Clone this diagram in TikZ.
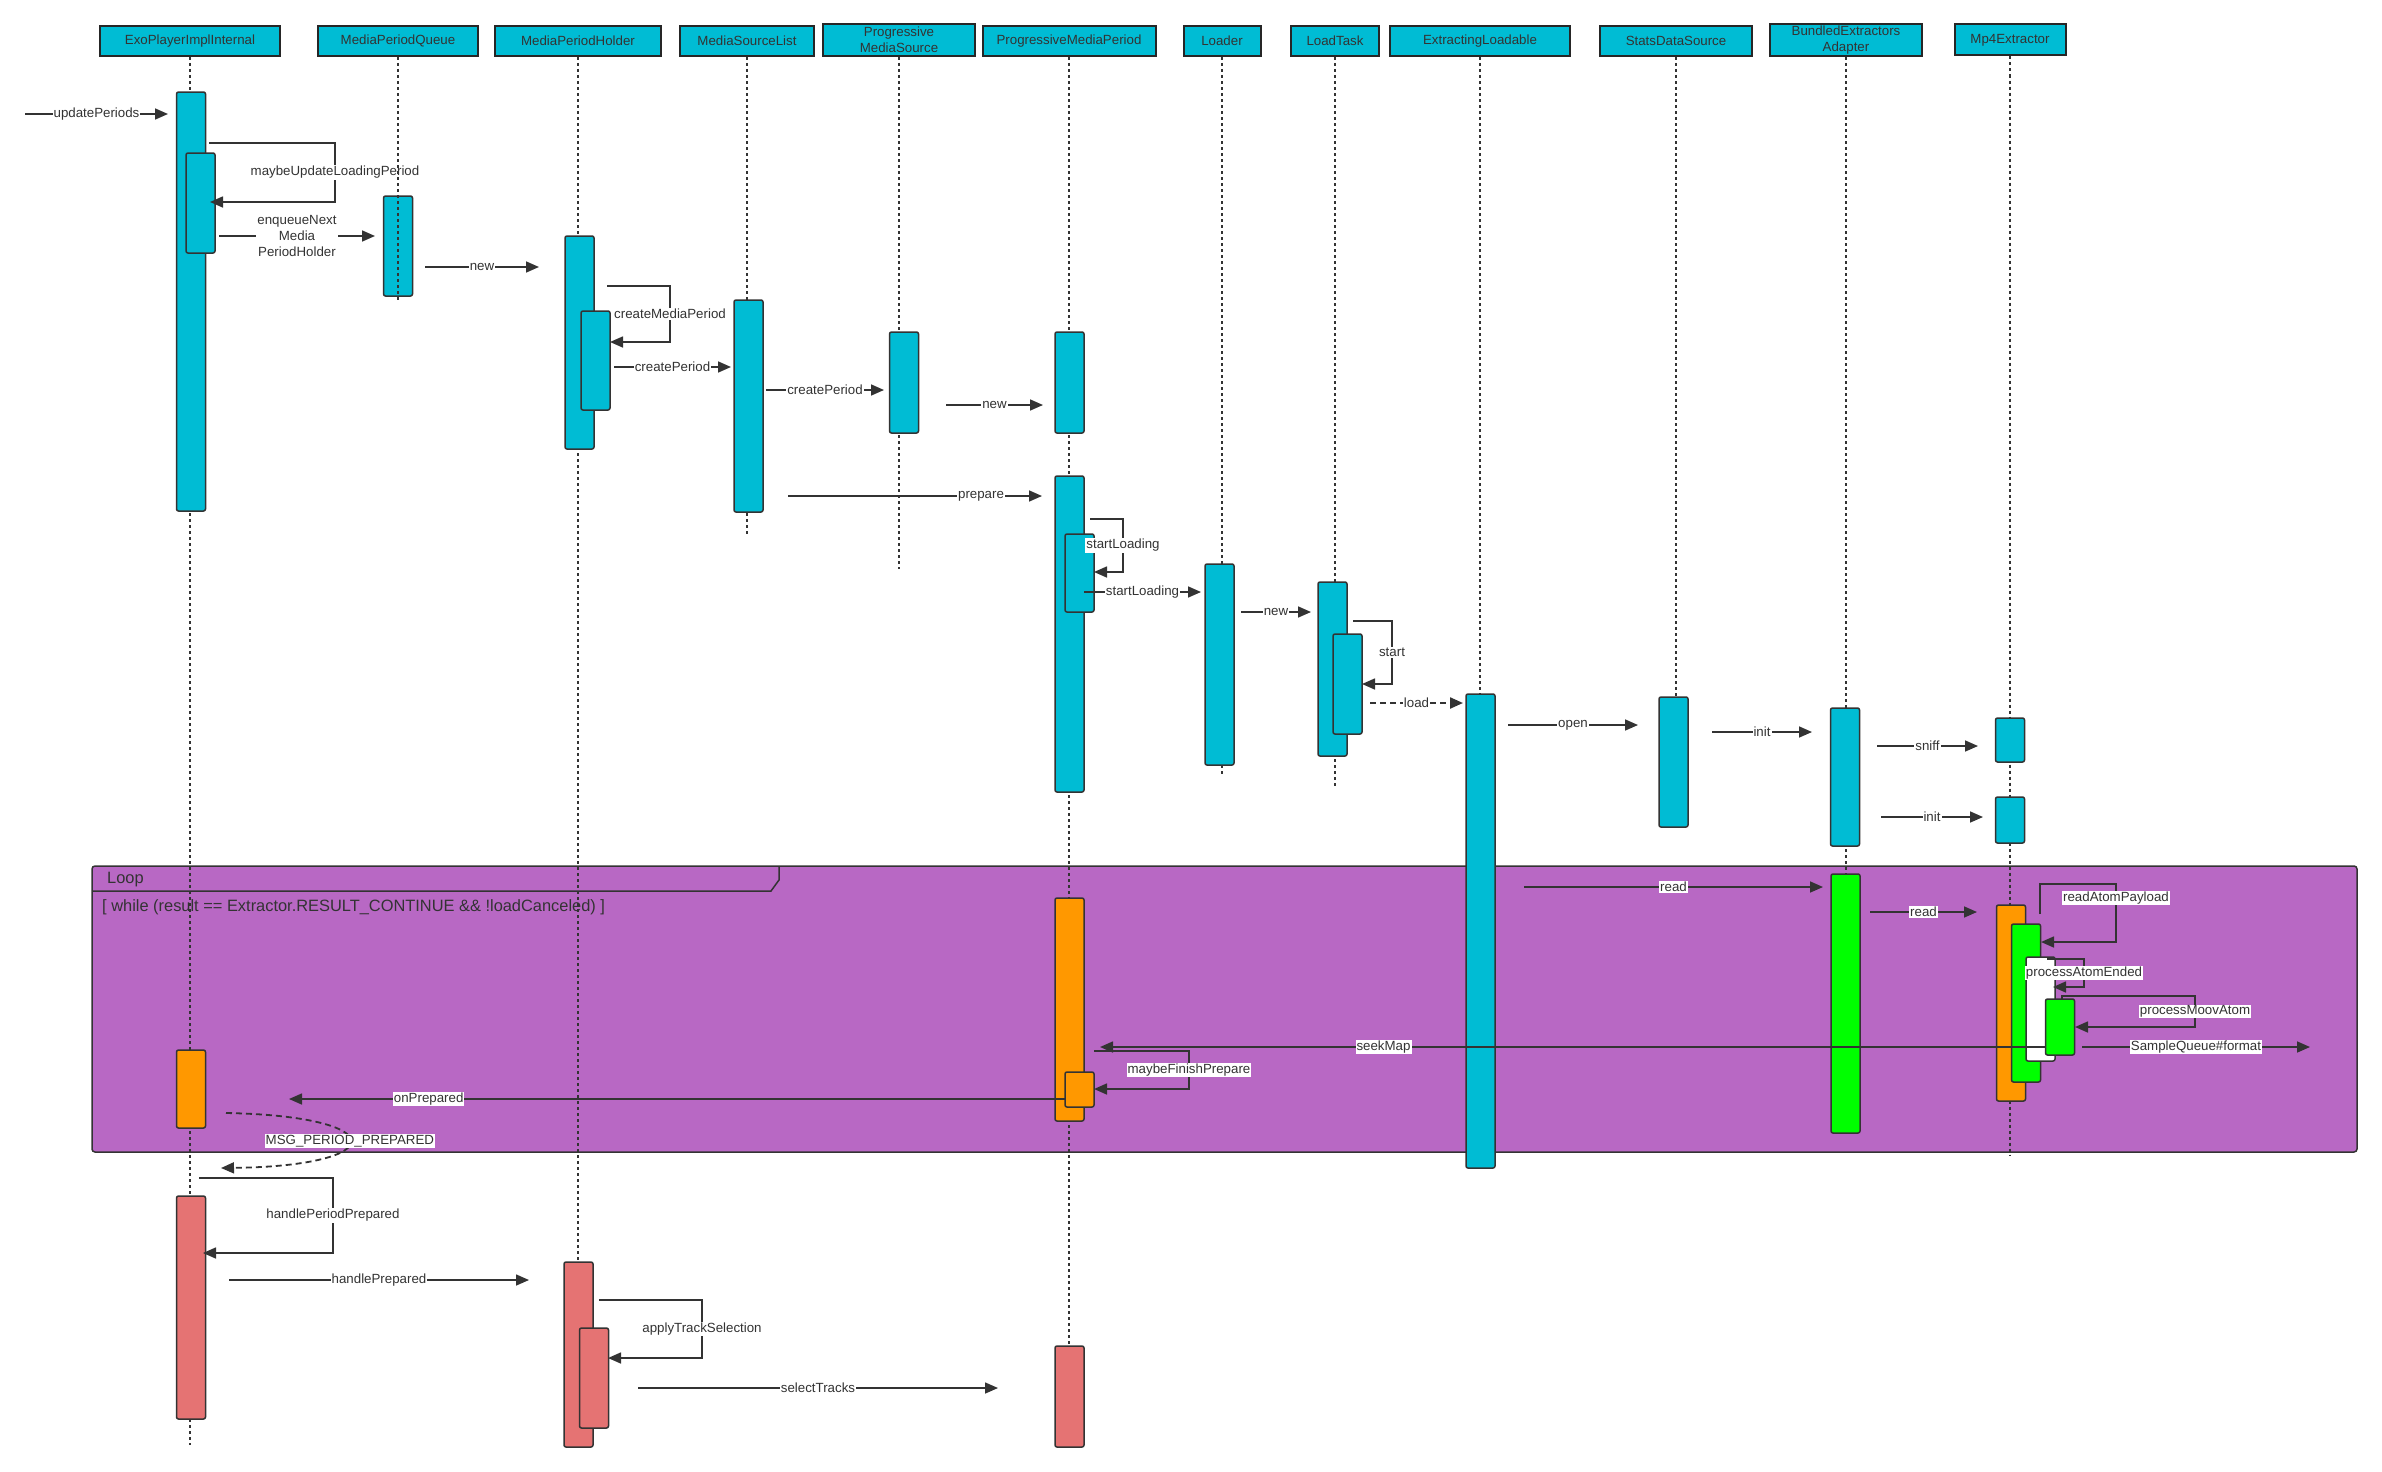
\documentclass[tikz,border=0pt]{standalone}
\usepackage{fontspec}
\setmainfont{Liberation Sans}
\usetikzlibrary{arrows.meta}
\definecolor{cy}{HTML}{00BCD4}
\definecolor{og}{HTML}{FF9800}
\definecolor{gr}{HTML}{00FF00}
\definecolor{rd}{HTML}{E57373}
\definecolor{pu}{HTML}{B868C4}
\definecolor{ln}{HTML}{333333}
\newcommand\actbox[5]{\node[act,fill=#5,minimum height=#4pt] (#1) at (#2,#3) {};}
\begin{document}
\begin{tikzpicture}[x=1pt,y=-1pt,
  hdr/.style={draw=black!85,line width=2pt,fill=cy,inner sep=0pt,minimum height=30pt,
    font=\fontsize{13.3}{15.6}\selectfont,text=ln,align=center},
  life/.style={draw=ln,line width=1.5pt,dash pattern=on 3pt off 3pt},
  act/.style={draw=ln,line width=1.5pt,rounded corners=2pt,inner sep=0pt,minimum width=29pt},
  msg/.style={draw=ln,line width=1.6pt,-{Triangle[length=13pt,width=11pt]}},
  lbl/.style={fill=white,inner sep=1pt,font=\fontsize{13.3}{16}\selectfont,text=ln,align=center},
  frametext/.style={font=\fontsize{16.4}{19}\selectfont,text=ln,anchor=west,inner sep=0pt}]
\useasboundingbox (0,0) rectangle (2382,1472);
\fill[white] (0,0) rectangle (2382,1472);

% loop frame
\draw[ln,line width=1.5pt,fill=pu,rounded corners=3pt] (92,866) rectangle (2357,1152);
\draw[ln,line width=1.5pt] (92,891) -- (771,891) -- (779,880) -- (779,867);
\node[frametext] (loopT) at (107,880) {Loop};
\node[frametext] (loopC) at (102,907) {[ while (result == Extractor.RESULT\_CONTINUE \&\& !loadCanceled) ]};

% headers
\node[hdr,minimum width=180pt] (hExo) at (190,41) {ExoPlayerImplInternal};
\node[hdr,minimum width=160pt] (hMPQ) at (398,41) {MediaPeriodQueue};
\node[hdr,minimum width=166pt] (hMPH) at (578,41) {MediaPeriodHolder};
\node[hdr,minimum width=134pt] (hMSL) at (747,41) {MediaSourceList};
\node[hdr,minimum width=152pt,minimum height=32pt] (hPMS) at (899,40) {Progressive\\MediaSource};
\node[hdr,minimum width=173pt] (hPMP) at (1069,41) {ProgressiveMediaPeriod};
\node[hdr,minimum width=77pt] (hLdr) at (1222,41) {Loader};
\node[hdr,minimum width=88pt] (hLT) at (1335,41) {LoadTask};
\node[hdr,minimum width=180pt] (hEL) at (1480,41) {ExtractingLoadable};
\node[hdr,minimum width=152pt] (hSDS) at (1676,41) {StatsDataSource};
\node[hdr,minimum width=152pt,minimum height=32pt] (hBEA) at (1846,40) {BundledExtractors\\Adapter};
\node[hdr,minimum width=111pt,minimum height=31pt] (hMp4) at (2010,40) {Mp4Extractor};

% lifeline ends
\coordinate (eExo) at (190,1445);
\coordinate (eMPQ) at (398,301);
\coordinate (eMPH) at (578,1447);
\coordinate (eMSL) at (747,535);
\coordinate (ePMS) at (899,569);
\coordinate (ePMP) at (1069,1447);
\coordinate (eLdr) at (1222,774);
\coordinate (eLT) at (1335,787);
\coordinate (eEL) at (1480,1168);
\coordinate (eSDS) at (1676,827);
\coordinate (eBEA) at (1846,1133);
\coordinate (eMp4) at (2010,1156);

\draw[life] (hExo.south) -- (eExo);
\draw[life] (hMPH.south) -- (eMPH);
\draw[life] (hMSL.south) -- (eMSL);
\draw[life] (hPMS.south) -- (ePMS);
\draw[life] (hPMP.south) -- (ePMP);
\draw[life] (hLdr.south) -- (eLdr);
\draw[life] (hLT.south) -- (eLT);
\draw[life] (hEL.south) -- (eEL);
\draw[life] (hSDS.south) -- (eSDS);
\draw[life] (hBEA.south) -- (eBEA);
\draw[life] (hMp4.south) -- (eMp4);

% activations
\actbox{aExoA}{191}{301.5}{419}{cy}
\actbox{aExoB}{200.5}{203}{100}{cy}
\actbox{aMPQ}{398}{246}{100}{cy}
\actbox{aMPHA}{579.5}{342.5}{213}{cy}
\actbox{aMPHB}{595.5}{360.5}{99}{cy}
\actbox{aMSL}{748.5}{406}{212}{cy}
\actbox{aPMS}{904}{382.5}{101}{cy}
\actbox{aPMPA}{1069.5}{382.5}{101}{cy}
\actbox{aPMPB}{1069.5}{634}{316}{cy}
\actbox{aPMPC}{1079.5}{573}{78}{cy}
\actbox{aLdr}{1219.5}{664.5}{201}{cy}
\actbox{aLTA}{1332.5}{669}{174}{cy}
\actbox{aLTB}{1347.5}{684}{100}{cy}
\actbox{aEL}{1480.5}{931}{474}{cy}
\actbox{aSDS}{1673.5}{762}{130}{cy}
\actbox{aBEA}{1845}{777}{138}{cy}
\actbox{aMpA}{2010}{740}{44}{cy}
\actbox{aMpB}{2010}{820}{46}{cy}
\actbox{aPMPO}{1069.5}{1009.5}{223}{og}
\actbox{aPMPO2}{1079.5}{1089.5}{35}{og}
\actbox{aExoO}{191}{1089}{78}{og}
\actbox{aBEAG}{1845.5}{1003.5}{259}{gr}
\actbox{aMpO}{2011}{1003}{196}{og}
\actbox{aMpG1}{2026}{1003}{158}{gr}
\actbox{aMpW}{2040.5}{1009}{104}{white}
\actbox{aMpG2}{2060}{1027}{56}{gr}
\actbox{aExoR}{191}{1307.5}{223}{rd}
\actbox{aMPHR}{578.5}{1354.5}{185}{rd}
\actbox{aMPHR2}{594}{1378}{100}{rd}
\actbox{aPMPR}{1069.5}{1396.5}{101}{rd}

% message end points
\coordinate (upA) at (25,114);     \coordinate (upB) at (168,114);
\coordinate (mulA) at (209,143);   \coordinate (mulB) at (210,202);
\coordinate (enqA) at (219,236);   \coordinate (enqB) at (375,236);
\coordinate (nwA) at (425,267);    \coordinate (nwB) at (539,267);
\coordinate (cmpA) at (607,286);   \coordinate (cmpB) at (610,342);
\coordinate (cpA) at (614,367);    \coordinate (cpB) at (731,367);
\coordinate (cqA) at (766,390);    \coordinate (cqB) at (884,390);
\coordinate (nxA) at (946,405);    \coordinate (nxB) at (1043,405);
\coordinate (prA) at (788,496);    \coordinate (prB) at (1042,496);
\coordinate (slA) at (1090,519);   \coordinate (slB) at (1094,572);
\coordinate (smA) at (1084,592);   \coordinate (smB) at (1201,592);
\coordinate (nyA) at (1241,612);   \coordinate (nyB) at (1311,612);
\coordinate (stA) at (1353,621);   \coordinate (stB) at (1362,684);
\coordinate (ldA) at (1370,703);   \coordinate (ldB) at (1463,703);
\coordinate (opA) at (1508,725);   \coordinate (opB) at (1638,725);
\coordinate (inA) at (1712,732);   \coordinate (inB) at (1812,732);
\coordinate (snA) at (1877,746);   \coordinate (snB) at (1978,746);
\coordinate (ioA) at (1881,817);   \coordinate (ioB) at (1983,817);
\coordinate (rdA) at (1524,887);   \coordinate (rdB) at (1823,887);
\coordinate (reA) at (1870,912);   \coordinate (reB) at (1977,912);
\coordinate (rapA) at (2040,914);  \coordinate (rapC) at (2116,884); \coordinate (rapB) at (2041,942);
\coordinate (paeA) at (2047,959);  \coordinate (paeB) at (2053,987);
\coordinate (pmaA) at (2062,999);  \coordinate (pmaC) at (2195,996); \coordinate (pmaB) at (2075,1027);
\coordinate (sqA) at (2082,1047);  \coordinate (sqB) at (2310,1047);
\coordinate (skA) at (2045,1047);  \coordinate (skB) at (1100,1047);
\coordinate (mfpA) at (1094,1051); \coordinate (mfpB) at (1094,1089);
\coordinate (onA) at (1065,1099);  \coordinate (onB) at (289,1099);
\coordinate (mppA) at (226,1113);  \coordinate (mppB) at (221,1168);
\coordinate (hppA) at (199,1178);  \coordinate (hppB) at (203,1253);
\coordinate (hpA) at (229,1280);   \coordinate (hpB) at (529,1280);
\coordinate (atsA) at (599,1300);  \coordinate (atsB) at (608,1358);
\coordinate (stkA) at (638,1388);  \coordinate (stkB) at (998,1388);

% messages
\draw[msg] (upA) -- node[lbl] {updatePeriods} (upB);
\draw[msg] (mulA) -- ++(126,0) |- node[lbl,pos=0.25] {maybeUpdateLoadingPeriod} (mulB);
\draw[msg] (enqA) -- node[lbl] {enqueueNext\\Media\\PeriodHolder} (enqB);
\draw[msg] (nwA) -- node[lbl] {new} (nwB);
\draw[msg] (cmpA) -- ++(63,0) |- node[lbl,pos=0.25] {createMediaPeriod} (cmpB);
\draw[msg] (cpA) -- node[lbl] {createPeriod} (cpB);
\draw[msg] (cqA) -- node[lbl] {createPeriod} (cqB);
\draw[msg] (nxA) -- node[lbl] {new} (nxB);
\draw[msg] (prA) -- node[lbl,pos=0.76] {prepare} (prB);
\draw[msg] (slA) -- ++(33,0) |- node[lbl,pos=0.25] {startLoading} (slB);
\draw[msg] (smA) -- node[lbl] {startLoading} (smB);
\draw[msg] (nyA) -- node[lbl] {new} (nyB);
\draw[msg] (stA) -- ++(39,0) |- node[lbl,pos=0.25] {start} (stB);
\draw[msg,line width=2.2pt,dash pattern=on 6pt off 4pt] (ldA) -- node[lbl] {load} (ldB);
\draw[msg] (opA) -- node[lbl] {open} (opB);
\draw[msg] (inA) -- node[lbl] {init} (inB);
\draw[msg] (snA) -- node[lbl] {sniff} (snB);
\draw[msg] (ioA) -- node[lbl] {init} (ioB);
\draw[msg] (rdA) -- node[lbl] {read} (rdB);
\draw[msg] (reA) -- node[lbl] {read} (reB);
\draw[msg] (rapA) |- (rapC) |- (rapB);
\node[lbl] (rapL) at (2116,898) {readAtomPayload};
\draw[msg] (paeA) -- ++(37,0) |- node[lbl,pos=0.25] {processAtomEnded} (paeB);
\draw[msg] (pmaA) |- (pmaC) |- node[lbl,pos=0.25] {processMoovAtom} (pmaB);
\draw[msg] (skA) -- node[lbl,pos=0.70] {seekMap} (skB);
\draw[msg] (sqA) -- node[lbl] {SampleQueue\#format} (sqB);
\draw[msg] (mfpA) -- ++(95,0) |- node[lbl,pos=0.25] {maybeFinishPrepare} (mfpB);
\draw[msg] (onA) -- node[lbl,pos=0.82] {onPrepared} (onB);
\draw[msg,line width=1.8pt,dash pattern=on 6pt off 4pt] (mppA) .. controls (392,1116) and (392,1166) .. node[lbl] {MSG\_PERIOD\_PREPARED} (mppB);
\draw[msg] (hppA) -- ++(134,0) |- node[lbl,pos=0.25] {handlePeriodPrepared} (hppB);
\draw[msg] (hpA) -- node[lbl] {handlePrepared} (hpB);
\draw[msg] (atsA) -- ++(103,0) |- node[lbl,pos=0.25] {applyTrackSelection} (atsB);
\draw[msg] (stkA) -- node[lbl] {selectTracks} (stkB);

% MediaPeriodQueue lifeline is drawn over its box and label
\draw[life] (hMPQ.south) -- (eMPQ);
\end{tikzpicture}
\end{document}
